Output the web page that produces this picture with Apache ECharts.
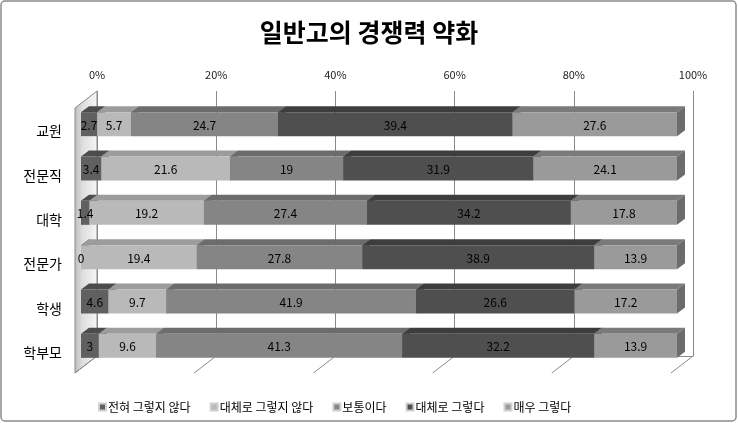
<!DOCTYPE html>
<html>
<head>
<meta charset="utf-8">
<script src="https://cdn.jsdelivr.net/npm/echarts@6/dist/echarts.min.js"></script>
<style>html,body{margin:0;padding:0;background:#fff}#c{width:738px;height:423px}</style>
</head>
<body>
<div id="c"></div>
<script>
const categories = ['교원', '전문직', '대학', '전문가', '학생', '학부모'];
const seriesNames = ['전혀 그렇지 않다', '대체로 그렇지 않다', '보통이다', '대체로 그렇다', '매우 그렇다'];
const s1 = [2.7, 3.4, 1.4, 0, 4.6, 3];
const s2 = [5.7, 21.6, 19.2, 19.4, 9.7, 9.6];
const s3 = [24.7, 19, 27.4, 27.8, 41.9, 41.3];
const s4 = [39.4, 31.9, 34.2, 38.9, 26.6, 32.2];
const s5 = [27.6, 24.1, 17.8, 13.9, 17.2, 13.9];
const tickValues = [0, 20, 40, 60, 80, 100];

const seriesValues = [s1, s2, s3, s4, s5];
const frontColors = ['#606060', '#b9b9b9', '#858585', '#4f4f4f', '#9a9a9a'];
const topColors = ['#4c4c4c', '#9c9c9c', '#6c6c6c', '#3d3d3d', '#7a7a7a'];
const sideColors = ['#444444', '#8c8c8c', '#606060', '#353535', '#6c6c6c'];
const FONT = '"Noto Sans CJK KR", sans-serif';
const DX = 8, DY = -6, BAR_H = 24;
const WALL_DX = -22, WALL_DY = 17;

// 100% stacked layout built from the arrays
const totals = categories.map((c, j) => seriesValues.reduce((a, s) => a + s[j], 0));
const stackedData = seriesValues.map((vals, i) => categories.map((c, j) => {
  let start = 0;
  for (let k = 0; k < i; k++) start += seriesValues[k][j];
  const end = start + vals[j];
  return [start / totals[j] * 100, end / totals[j] * 100, j, vals[j]];
}));

const barSeries = seriesNames.map((name, i) => ({
  name: name,
  type: 'custom',
  xAxisIndex: 1,
  yAxisIndex: 1,
  coordinateSystem: 'cartesian2d',
  itemStyle: { color: frontColors[i], borderColor: '#d0d0d0', borderWidth: 1 },
  encode: { x: [0, 1], y: 2 },
  data: stackedData[i],
  renderItem: function (params, api) {
    const s = api.value(0), e = api.value(1), cat = api.value(2), v = api.value(3);
    const p0 = api.coord([s, cat]);
    const p1 = api.coord([e, cat]);
    const top = p0[1] - BAR_H / 2, bot = p0[1] + BAR_H / 2;
    const x0 = p0[0], x1 = p1[0];
    return {
      type: 'group',
      children: [
        { type: 'polygon', shape: { points: [[x0, top], [x1, top], [x1 + DX, top + DY], [x0 + DX, top + DY]] },
          style: { fill: topColors[i] } },
        { type: 'polygon', shape: { points: [[x1, top], [x1 + DX, top + DY], [x1 + DX, bot + DY], [x1, bot]] },
          style: { fill: sideColors[i] } },
        { type: 'rect', shape: { x: x0, y: top, width: x1 - x0, height: BAR_H },
          style: { fill: frontColors[i] } },
        { type: 'text', z2: 100, x: (x0 + x1) / 2, y: p0[1] + 1,
          style: { text: String(v), fill: '#000', font: '12px ' + FONT, align: 'center', verticalAlign: 'middle' } }
      ]
    };
  }
}));

const floorSeries = {
  type: 'custom',
  name: 'floor',
  xAxisIndex: 0,
  yAxisIndex: 0,
  silent: true,
  data: tickValues.map(v => [v]),
  encode: { x: 0 },
  renderItem: function (params, api) {
    const v = api.value(0);
    const b = api.coord([v, 0]);
    const t = api.coord([v, 1]);
    const children = [
      { type: 'line', shape: { x1: b[0], y1: b[1], x2: b[0] + WALL_DX, y2: b[1] + WALL_DY },
        style: { stroke: '#8a8a8a', lineWidth: 1 } }
    ];
    if (v === 0) {
      children.unshift({
        type: 'polygon',
        shape: { points: [[t[0] + WALL_DX, t[1] + WALL_DY], [t[0], t[1]], [b[0], b[1]], [b[0] + WALL_DX, b[1] + WALL_DY]] },
        style: {
          fill: new echarts.graphic.LinearGradient(0, 0, 1, 0, [
            { offset: 0, color: '#bdbdbd' }, { offset: 0.35, color: '#dedede' }, { offset: 1, color: '#f6f6f6' }
          ]),
          stroke: '#8a8a8a', lineWidth: 1
        }
      });
    }
    return { type: 'group', children: children };
  }
};

const option = {
  animation: false,
  backgroundColor: '#fff',
  title: {
    text: '일반고의 경쟁력 약화',
    left: 'center',
    top: 15,
    textStyle: { fontFamily: FONT, fontSize: 25, fontWeight: 'bold', color: '#000' }
  },
  legend: {
    data: seriesNames,
    left: 93,
    top: 396,
    icon: 'rect',
    itemWidth: 7,
    itemHeight: 7,
    itemGap: 19,
    textStyle: { fontFamily: FONT, fontSize: 12, color: '#000', padding: [0, 0, 0, -3] }
  },
  graphic: [{
    type: 'rect', shape: { x: 1, y: 1, width: 735, height: 420, r: 4 },
    style: { fill: 'none', stroke: '#8c8c8c', lineWidth: 1.5 }, silent: true, z: 100
  }],
  grid: [
    { left: 97, top: 91, width: 596, height: 265 },
    { left: 81, top: 102, width: 596, height: 266 },
    { left: 81, top: 109, width: 596, height: 266 }
  ],
  xAxis: [
    { gridIndex: 0, type: 'value', position: 'top', min: 0, max: 100, interval: 20,
      axisLine: { show: true, lineStyle: { color: '#8a8a8a' } },
      axisTick: { show: false },
      axisLabel: { formatter: '{value}%', fontFamily: FONT, fontSize: 11, color: '#222', margin: 11 },
      splitLine: { show: true, lineStyle: { color: '#8a8a8a', width: 1 } } },
    { gridIndex: 1, type: 'value', min: 0, max: 100, show: false },
    { gridIndex: 2, type: 'value', min: 0, max: 100, show: false }
  ],
  yAxis: [
    { gridIndex: 0, type: 'value', min: 0, max: 1, show: false },
    { gridIndex: 1, type: 'category', data: categories, inverse: true, show: false },
    { gridIndex: 2, type: 'category', data: categories, inverse: true,
      axisLine: { show: false }, axisTick: { show: false }, splitLine: { show: false },
      axisLabel: { fontFamily: FONT, fontSize: 14, color: '#000', margin: 19 } }
  ],
  series: [floorSeries].concat(barSeries)
};

const chart = echarts.init(document.getElementById('c'), null, { renderer: 'canvas' });
chart.setOption(option);
</script>
</body>
</html>
